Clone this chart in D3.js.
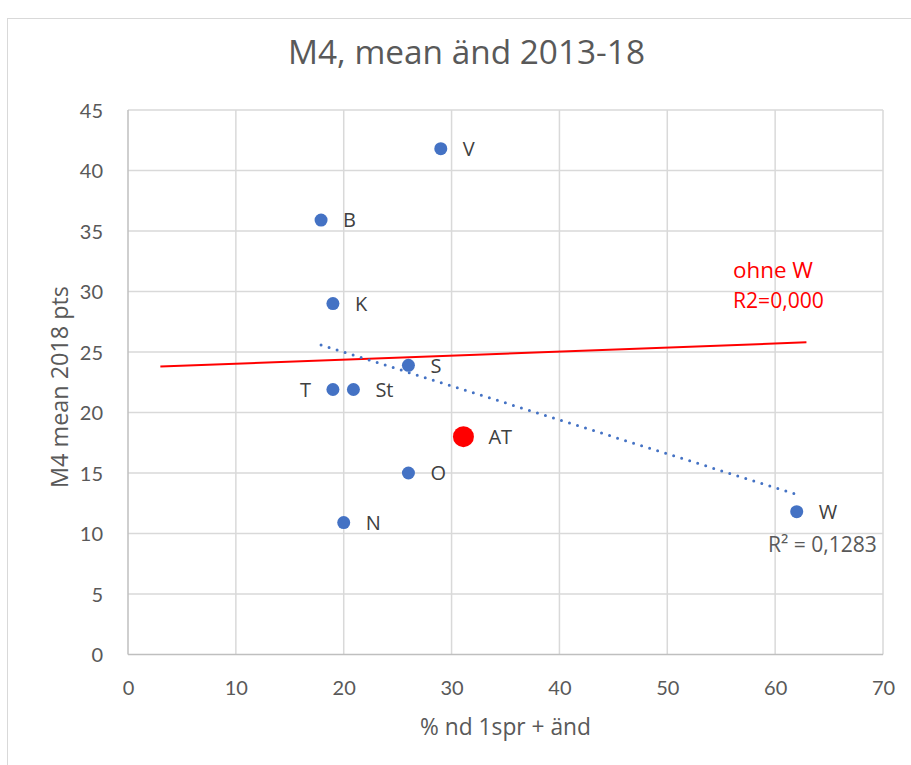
<!DOCTYPE html>
<html>
<head>
<meta charset="utf-8">
<script src="https://cdn.jsdelivr.net/npm/d3@7"></script>
<style>
  html, body { margin: 0; padding: 0; background: #fff; }
  svg { display: block; font-family: "Open Sans", Lato, sans-serif; }
</style>
</head>
<body>
<svg id="chart" width="911" height="765"></svg>
<script>
// ---- data ----
const labels  = ["V", "B", "K", "S", "T", "St", "AT", "O", "N", "W"];
const xValues = [29, 17.9, 19, 26, 19, 20.9, 31.1, 26, 20, 62];
const yValues = [41.8, 35.9, 29, 23.9, 21.9, 21.9, 18, 15, 10.9, 11.8];
const highlight = "AT";
const xTicks = [0, 10, 20, 30, 40, 50, 60, 70];
const yTicks = [0, 5, 10, 15, 20, 25, 30, 35, 40, 45];
// manually drawn "ohne W" line (x, y endpoints)
const ohneWx = [3, 62.9];
const ohneWy = [23.8, 25.8];
const title = "M4, mean änd 2013-18";
const xTitle = "% nd 1spr + änd";
const yTitle = "M4 mean 2018 pts";
const r2Text = "R² = 0,1283";
const ohneText = ["ohne W", "R2=0,000"];

const svg = d3.select("#chart");
const x = d3.scaleLinear().domain([0, 70]).range([128, 883]);
const y = d3.scaleLinear().domain([0, 45]).range([654.5, 110]);

function fit(sel, target) {
  const node = sel.node();
  const fs = parseFloat(sel.style("font-size"));
  const w = node.getComputedTextLength();
  if (w > 0) sel.style("font-size", (fs * target / w) + "px");
  return sel;
}

// chart border
svg.append("rect").attr("x", 7.5).attr("y", 18.5).attr("width", 1000).attr("height", 1000)
  .attr("fill", "none").attr("stroke", "#d9d9d9").attr("stroke-width", 1);

// gridlines
svg.append("g").selectAll("line").data(xTicks.filter(d => d > 0)).join("line")
  .attr("x1", d => x(d)).attr("x2", d => x(d)).attr("y1", y(0)).attr("y2", y(45))
  .attr("stroke", "#d9d9d9").attr("stroke-width", 1.5);
svg.append("g").selectAll("line").data(yTicks.filter(d => d > 0)).join("line")
  .attr("x1", x(0)).attr("x2", x(70)).attr("y1", d => y(d)).attr("y2", d => y(d))
  .attr("stroke", "#d9d9d9").attr("stroke-width", 1.5);
// axis lines
svg.append("line").attr("x1", x(0)).attr("x2", x(0)).attr("y1", y(0)).attr("y2", y(45))
  .attr("stroke", "#bfbfbf").attr("stroke-width", 1.5);
svg.append("line").attr("x1", x(0)).attr("x2", x(70)).attr("y1", y(0)).attr("y2", y(0))
  .attr("stroke", "#bfbfbf").attr("stroke-width", 1.5);

// tick labels via axes
const xAxis = svg.append("g").attr("transform", `translate(0,${y(0)})`)
  .call(d3.axisBottom(x).tickValues(xTicks).tickSize(0).tickPadding(0).tickFormat(d3.format("d")));
xAxis.select(".domain").remove();
xAxis.selectAll("text").attr("dy", null).attr("y", 40).attr("fill", "#595959")
  .style("font-size", "20px").style("font-family", "Lato");
const yAxis = svg.append("g").attr("transform", `translate(${x(0)},0)`)
  .call(d3.axisLeft(y).tickValues(yTicks).tickSize(0).tickPadding(0).tickFormat(d3.format("d")));
yAxis.select(".domain").remove();
yAxis.selectAll("text").attr("x", -25).attr("dy", "0.36em").attr("fill", "#595959")
  .style("font-size", "20px").style("font-family", "Lato");

// ohne W line
svg.append("line")
  .attr("x1", x(ohneWx[0])).attr("y1", y(ohneWy[0]))
  .attr("x2", x(ohneWx[1])).attr("y2", y(ohneWy[1]))
  .attr("stroke", "#ff0000").attr("stroke-width", 2);

// linear trendline over all points
const mx = d3.mean(xValues), my = d3.mean(yValues);
const sxy = d3.sum(xValues, (v, i) => (v - mx) * (yValues[i] - my));
const sxx = d3.sum(xValues, v => (v - mx) ** 2);
const slope = sxy / sxx, icpt = my - slope * mx;
const [xmin, xmax] = d3.extent(xValues);
svg.append("line")
  .attr("x1", x(xmin)).attr("y1", y(icpt + slope * xmin))
  .attr("x2", x(xmax)).attr("y2", y(icpt + slope * xmax))
  .attr("stroke", "#4472c4").attr("stroke-width", 3)
  .attr("stroke-linecap", "round").attr("stroke-dasharray", "0 8.4");

// points
const pts = labels.map((l, i) => ({ l, x: xValues[i], y: yValues[i] }));
svg.append("g").selectAll("circle").data(pts).join("circle")
  .attr("cx", d => x(d.x)).attr("cy", d => y(d.y))
  .attr("r", d => d.l === highlight ? 10.5 : 6.5)
  .attr("fill", d => d.l === highlight ? "#ff0000" : "#4472c4");

// point labels
svg.append("g").selectAll("text").data(pts).join("text")
  .attr("x", d => d.l === "T" ? x(d.x) - 22 : x(d.x) + (d.l === highlight ? 25 : 22))
  .attr("y", d => y(d.y))
  .attr("dy", "0.36em")
  .attr("text-anchor", d => d.l === "T" ? "end" : "start")
  .attr("fill", "#404040").style("font-size", "20px")
  .text(d => d.l);

// R² label
fit(svg.append("text").attr("x", 768).attr("y", 552).attr("fill", "#595959")
  .style("font-size", "20px").text(r2Text), 109);

// ohne W text
svg.append("g").selectAll("text").data(ohneText).join("text")
  .attr("x", 733).attr("y", (d, i) => 278 + i * 30)
  .attr("fill", "#ff0000").style("font-size", "20px")
  .text(d => d)
  .each(function (d, i) { fit(d3.select(this), i === 0 ? 80 : 91); });

// titles
fit(svg.append("text").attr("x", 466.5).attr("y", 64).attr("text-anchor", "middle")
  .attr("fill", "#595959").style("font-size", "28px").text(title), 357);
fit(svg.append("text").attr("x", 505.5).attr("y", 735).attr("text-anchor", "middle")
  .attr("fill", "#595959").style("font-size", "21px").text(xTitle), 171);
fit(svg.append("text").attr("transform", "translate(68,387) rotate(-90)").attr("text-anchor", "middle")
  .attr("fill", "#595959").style("font-size", "21px").text(yTitle), 202);
</script>
</body>
</html>
